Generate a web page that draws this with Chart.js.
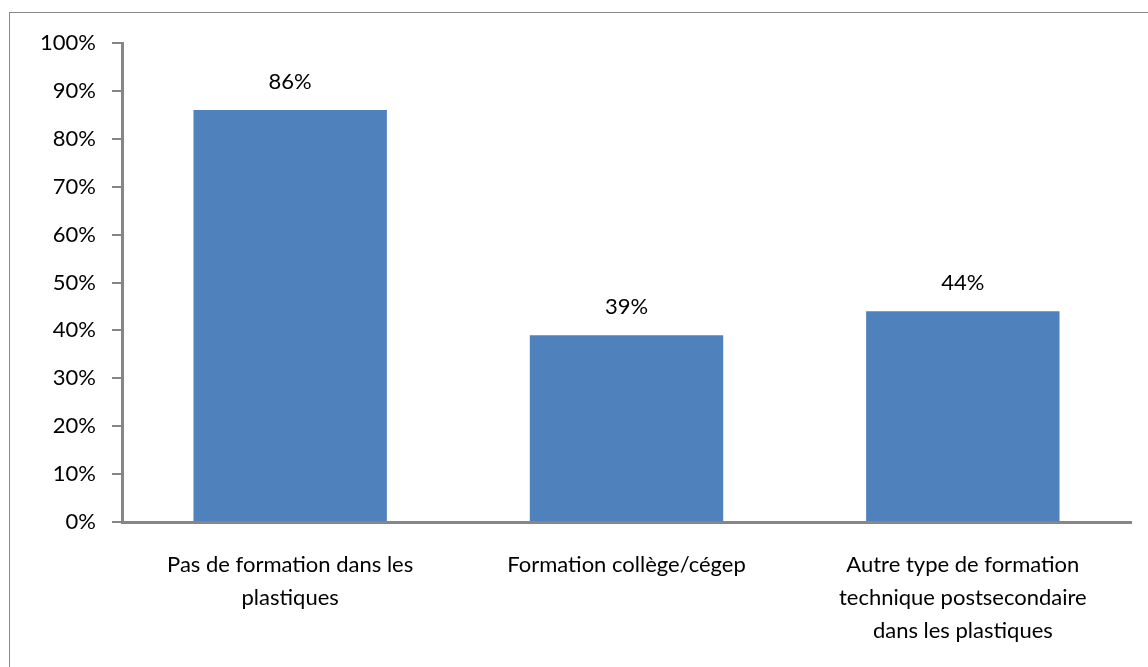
<!DOCTYPE html>
<html>
<head>
<meta charset="utf-8">
<script src="https://cdn.jsdelivr.net/npm/chart.js@4"></script>
<style>
  html,body{margin:0;padding:0;background:#fff;overflow:hidden;}
  #wrap{position:relative;width:1148px;height:667px;}
  #frame{position:absolute;left:9px;top:12px;width:1200px;height:700px;border:1px solid #8a8a8a;box-sizing:border-box;}
  canvas{position:absolute;left:0;top:0;}
</style>
</head>
<body>
<div id="wrap">
  <div id="frame"></div>
  <canvas id="chart" width="1148" height="667"></canvas>
</div>
<script>
const categories = [
  ['Pas de formation dans les', 'plastiques'],
  ['Formation collège/cégep'],
  ['Autre type de formation', 'technique postsecondaire', 'dans les plastiques']
];
const values = [0.86, 0.39, 0.44];
const valueLabels = ['86%', '39%', '44%'];

const FONT = 'Lato, "Liberation Sans", sans-serif';
const axisGray = '#868686';

// draw the percentage above each bar
const barLabels = {
  id: 'barLabels',
  afterDatasetsDraw(chart){
    const ctx = chart.ctx;
    const meta = chart.getDatasetMeta(0);
    ctx.save();
    ctx.font = '22px ' + FONT;
    ctx.fillStyle = '#000';
    ctx.textAlign = 'center';
    ctx.textBaseline = 'middle';
    meta.data.forEach((bar, i) => {
      ctx.fillText(valueLabels[i], bar.x, bar.y - 28);
    });
    ctx.restore();
  }
};

new Chart(document.getElementById('chart'), {
  type: 'bar',
  data: {
    labels: categories,
    datasets: [{
      data: values,
      backgroundColor: '#4F81BD',
      borderWidth: 0,
      categoryPercentage: 1,
      barPercentage: 0.575
    }]
  },
  options: {
    responsive: false,
    animation: false,
    layout: { padding: { left: 0, right: 17, top: 43, bottom: 0 } },
    plugins: { legend: { display: false }, tooltip: { enabled: false } },
    scales: {
      y: {
        min: 0, max: 1,
        afterFit(s){ s.width = 122; },
        ticks: {
          stepSize: 0.1,
          padding: 16,
          color: '#000',
          font: { family: FONT, size: 22 },
          callback: v => Math.round(v * 100) + '%'
        },
        grid: { drawOnChartArea: false, tickLength: 10, color: axisGray, lineWidth: 2 },
        border: { color: axisGray, width: 3 }
      },
      x: {
        afterFit(s){ s.height = 145; },
        ticks: {
          padding: 26,
          color: '#000',
          maxRotation: 0,
          autoSkip: false,
          font: { family: FONT, size: 22, lineHeight: 1.5 }
        },
        grid: { display: false, drawTicks: false },
        border: { color: axisGray, width: 3 }
      }
    }
  },
  plugins: [barLabels]
});
</script>
</body>
</html>
